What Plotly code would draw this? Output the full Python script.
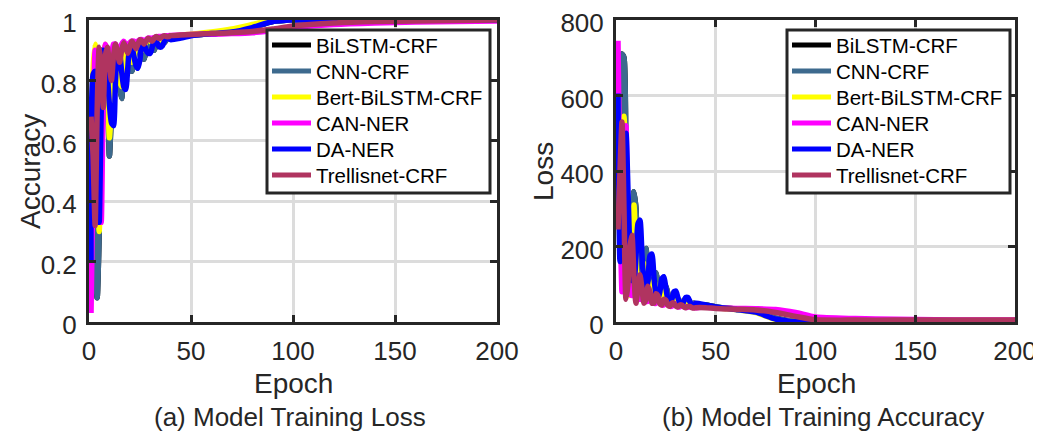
import plotly.graph_objects as go

# ---------------- data ----------------
epochs = list(range(1, 41)) + [45, 50, 60, 70, 80, 90, 100, 120, 140, 160, 180, 200]

models = ["BiLSTM-CRF", "CNN-CRF", "Bert-BiLSTM-CRF", "CAN-NER", "DA-NER", "Trellisnet-CRF"]
colors = ["#000000", "#3D6A8E", "#FFFF00", "#FF00FF", "#0000FF", "#B03460"]

acc_bilstm = [.30, .35, .20, .08, .30, .75, .90, .91, .80, .55,
              .70, .90, .92, .88, .78, .74, .85, .91, .91, .87,
              .83, .86, .91, .92, .90, .88, .87, .90, .93, .93,
              .91, .90, .92, .935, .935, .925, .925, .935, .94, .94,
              .945, .95, .955, .96, .975, .995, 1.0, 1.0, 1.0, 1.0, 1.0, 1.0]
acc_cnn = [.30, .35, .20, .08, .30, .75, .90, .91, .80, .55,
           .70, .90, .92, .88, .78, .74, .85, .91, .91, .87,
           .83, .86, .91, .92, .90, .88, .87, .90, .93, .93,
           .91, .90, .92, .935, .935, .925, .925, .935, .94, .94,
           .945, .95, .955, .96, .975, .995, 1.0, 1.0, 1.0, 1.0, 1.0, 1.0]
acc_bert = [.60, .84, .92, .70, .30, .55, .88, .92, .80, .61,
            .72, .88, .92, .88, .80, .78, .86, .91, .92, .89,
            .86, .88, .915, .925, .91, .90, .91, .93, .935, .93,
            .925, .93, .94, .94, .935, .935, .94, .945, .945, .945,
            .95, .953, .96, .97, .985, 1.0, 1.0, 1.0, 1.0, 1.0, 1.0, 1.0]
acc_can = [.03, .50, .90, .85, .55, .33, .75, .92, .90, .85,
           .88, .92, .92, .90, .90, .92, .93, .92, .915, .925,
           .93, .93, .925, .93, .935, .935, .93, .935, .94, .94,
           .94, .942, .944, .945, .945, .946, .947, .948, .948, .949,
           .95, .952, .953, .955, .958, .965, .975, .985, .99, .993, .995, .997]
acc_da = [.20, .82, .83, .62, .33, .70, .90, .89, .82, .72,
          .66, .65, .80, .90, .89, .83, .78, .77, .84, .91,
          .91, .88, .85, .84, .87, .92, .92, .90, .89, .89,
          .91, .935, .93, .915, .91, .915, .93, .94, .94, .935,
          .94, .948, .955, .96, .975, .995, 1.0, 1.0, 1.0, 1.0, 1.0, 1.0]
acc_trellis = [.68, .55, .32, .70, .91, .85, .71, .88, .91, .85,
               .80, .88, .92, .89, .86, .90, .925, .91, .89, .91,
               .93, .92, .905, .92, .935, .93, .92, .93, .94, .935,
               .93, .94, .945, .94, .94, .945, .948, .945, .945, .948,
               .95, .952, .955, .958, .962, .97, .98, .99, .995, .997, .998, 1.0]

loss_bilstm = [300, 550, 710, 700, 400, 150, 100, 220, 345, 300,
               150, 90, 110, 170, 195, 140, 90, 80, 110, 130,
               100, 70, 65, 85, 95, 75, 55, 55, 70, 72,
               60, 48, 50, 58, 55, 48, 45, 48, 50, 47,
               45, 40, 34, 27, 10, 1.5, 1, 1, 1, 1, 1, 1]
loss_cnn = [300, 550, 710, 700, 400, 150, 100, 220, 345, 300,
            150, 90, 110, 170, 195, 140, 90, 80, 110, 130,
            100, 70, 65, 85, 95, 75, 55, 55, 70, 72,
            60, 48, 50, 58, 55, 48, 45, 48, 50, 47,
            45, 40, 34, 27, 10, 1.5, 1, 1, 1, 1, 1, 1]
loss_bert = [520, 200, 300, 545, 400, 120, 70, 200, 310, 180,
             70, 65, 120, 155, 110, 65, 60, 95, 110, 80,
             55, 55, 75, 85, 65, 48, 50, 62, 65, 52,
             45, 48, 55, 52, 45, 42, 45, 47, 44, 42,
             42, 38, 33, 25, 7, 1, 1, 2, 3, 3, 4, 4]
loss_can = [745, 300, 80, 300, 520, 250, 75, 70, 130, 120,
            65, 60, 95, 90, 55, 55, 75, 70, 50, 50,
            62, 58, 45, 45, 55, 50, 42, 42, 48, 46,
            40, 40, 44, 42, 39, 39, 41, 40, 38, 38,
            40, 37, 36, 35, 33, 25, 13, 9, 7, 6, 5, 5]
loss_da = [605, 160, 250, 450, 500, 350, 180, 110, 110, 170,
           260, 270, 180, 100, 75, 110, 175, 180, 120, 75,
           60, 80, 115, 120, 90, 60, 50, 60, 80, 82,
           65, 50, 45, 55, 65, 65, 55, 45, 45, 50,
           45, 40, 33, 26, 8, 1, 1, 1, 1, 1, 1, 1]
loss_trellis = [245, 400, 530, 300, 60, 100, 200, 230, 120, 50,
                90, 125, 90, 50, 60, 95, 80, 50, 50, 75,
                70, 48, 45, 60, 58, 44, 42, 50, 50, 42,
                40, 45, 45, 40, 38, 41, 41, 38, 37, 38,
                38, 36, 34, 32, 25, 15, 6, 5, 5, 5, 5, 5]

x_ticks = [0, 50, 100, 150, 200]
acc_ticks = [0, 0.2, 0.4, 0.6, 0.8, 1]
acc_ticklabels = ["0", "0.2", "0.4", "0.6", "0.8", "1"]
loss_ticks = [0, 200, 400, 600, 800]

acc_series = [acc_bilstm, acc_cnn, acc_bert, acc_can, acc_da, acc_trellis]
loss_series = [loss_bilstm, loss_cnn, loss_bert, loss_can, loss_da, loss_trellis]

# ---------------- figure ----------------
OFF = 8                      # page body margin
W, H = 1041 - OFF, 434 - OFF
FONT = "Liberation Sans, Arial, sans-serif"
FRAME = "#262626"
LW = 5.5

fig = go.Figure()
for name, col, ys in zip(models, colors, acc_series):
    fig.add_trace(go.Scatter(x=epochs, y=ys, name=name, mode="lines",
                             line=dict(color=col, width=LW, shape="spline", smoothing=0.6),
                             xaxis="x", yaxis="y", showlegend=False))
for name, col, ys in zip(models, colors, loss_series):
    fig.add_trace(go.Scatter(x=epochs, y=ys, name=name, mode="lines",
                             line=dict(color=col, width=LW, shape="spline", smoothing=0.6),
                             xaxis="x2", yaxis="y2", showlegend=False))


def px_x(p):
    return (p - OFF) / W


def px_y(p):
    return 1 - (p - OFF) / H


axis_common = dict(showline=True, linecolor=FRAME, linewidth=3, mirror="ticks",
                   ticks="inside", ticklen=7, tickwidth=3, tickcolor=FRAME,
                   showgrid=True, gridcolor="#DCDCDC", gridwidth=2.5,
                   zeroline=False, automargin=False, ticklabeloverflow="allow",
                   tickfont=dict(family=FONT, size=26, color=FRAME),
                   ticklabelstandoff=4)

ydom = [px_y(322), px_y(20)]
fig.update_layout(
    width=W, height=H,
    margin=dict(l=0, r=0, t=0, b=0, autoexpand=False),
    paper_bgcolor="white", plot_bgcolor="white",
    font=dict(family=FONT, color="black"),
    xaxis=dict(domain=[px_x(89), px_x(497)], range=[0, 200], tickvals=x_ticks,
               anchor="y", **axis_common),
    yaxis=dict(domain=ydom, range=[0, 1], tickvals=acc_ticks, ticktext=acc_ticklabels,
               anchor="x", ticklabelshift=3, **axis_common),
    xaxis2=dict(domain=[px_x(616), px_x(1015)], range=[0, 200], tickvals=x_ticks,
                anchor="y2", **axis_common),
    yaxis2=dict(domain=ydom, range=[0, 800], tickvals=loss_ticks,
                anchor="x2", ticklabelshift=3, **axis_common),
    showlegend=False,
)

# ---- legends (box, sample lines and names), one per panel ----
legend_boxes = [(267, 490), (787, 1010)]  # left/right edges in px
box_top, box_bottom = 30, 193
row_first, row_step = 45, 26
for (bx0, bx1) in legend_boxes:
    fig.add_shape(type="rect", xref="paper", yref="paper",
                  x0=px_x(bx0), x1=px_x(bx1), y0=px_y(box_bottom), y1=px_y(box_top),
                  fillcolor="white", line=dict(color=FRAME, width=3), layer="above")
    for i, (name, col) in enumerate(zip(models, colors)):
        ry = row_first + i * row_step
        fig.add_shape(type="line", xref="paper", yref="paper",
                      x0=px_x(bx0 + 5), x1=px_x(bx0 + 44), y0=px_y(ry), y1=px_y(ry),
                      line=dict(color=col, width=5), layer="above")
        fig.add_annotation(text=name, x=px_x(bx0 + 47), y=px_y(ry), xref="paper", yref="paper",
                           xanchor="left", yanchor="middle", showarrow=False,
                           font=dict(family=FONT, size=20.5, color="black"))

ann = [
    ("Accuracy", 30, 172, -90, 28),
    ("Loss", 543, 172, -90, 28),
    ("Epoch", 293, 383, 0, 28),
    ("Epoch", 816, 383, 0, 28),
    ("(a) Model Training Loss", 290, 417, 0, 26),
    ("(b) Model Training Accuracy", 823, 417, 0, 26),
]
for text, x, y, ang, sz in ann:
    fig.add_annotation(text=text, x=px_x(x), y=px_y(y), xref="paper", yref="paper",
                       xanchor="center", yanchor="middle", showarrow=False,
                       textangle=ang, font=dict(family=FONT, size=sz, color=FRAME))

fig.write_html("out.html")
